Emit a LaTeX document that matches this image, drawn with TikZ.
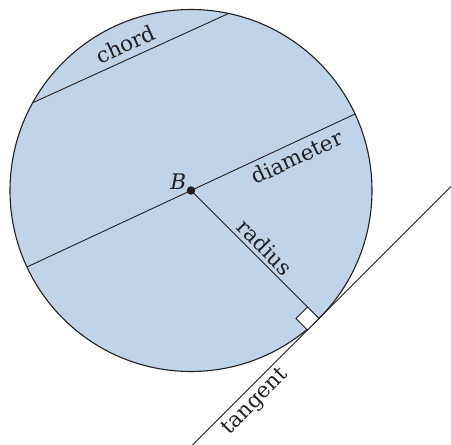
\documentclass[tikz,border=0pt]{standalone}
\usepackage{fontspec}
\setmainfont{DejaVu Serif}
\usetikzlibrary{calc}
\definecolor{discblue}{RGB}{191,212,233}
\definecolor{ink}{RGB}{35,31,32}
\begin{document}
\begin{tikzpicture}[x=1pt,y=1pt,
  lab/.style={font=\fontsize{21.5}{25}\selectfont, text=ink, sloped},
  ln/.style={draw=ink, line width=0.9pt},
  disc/.style={circle, draw=ink, line width=1.1pt, fill=discblue, minimum size=362pt, inner sep=0pt, outer sep=0pt},
  centre/.style={circle, fill=ink, inner sep=0pt, minimum size=8.5pt}]
\useasboundingbox (0,0) rectangle (451,445);
\coordinate (B) at (191,254.5);
\node[disc] (C) at (B) {};
\coordinate (T) at (C.-45);
\coordinate (Tb) at ($(T)+(225:178.9)$);
\coordinate (Tt) at ($(T)+(45:186.7)$);
\coordinate (Q1) at ($(T)+(135:16.3)$);
\coordinate (Q3) at ($(T)+(225:16.3)$);
\coordinate (Q2) at ($(Q1)+(225:16.3)$);
% chord
\draw[ln] (C.151.4) -- node (chordlab) [lab, pos=0.505, above, inner sep=6pt] {chord} (C.78.6);
% diameter
\draw[ln] (C.205) -- node (diamlab) [lab, pos=0.804, below, inner sep=5.4pt] {diameter} (C.25);
% radius
\draw[ln] (B) -- node (radlab) [lab, pos=0.51, above, inner sep=3.5pt] {radius} (T);
% tangent
\draw[ln] (Tb) -- node (tanlab) [lab, pos=0.205, below, inner sep=4pt] {tangent} (Tt);
% right angle
\draw[ln, fill=white] (T) -- (Q1) -- (Q2) -- (Q3) -- cycle;
% centre
\node[centre] (Bdot) at (B) {};
\node[font=\fontsize{21.5}{25}\selectfont\itshape, text=ink] (Blab) at (178.3,263.3) {B};
\end{tikzpicture}
\end{document}
